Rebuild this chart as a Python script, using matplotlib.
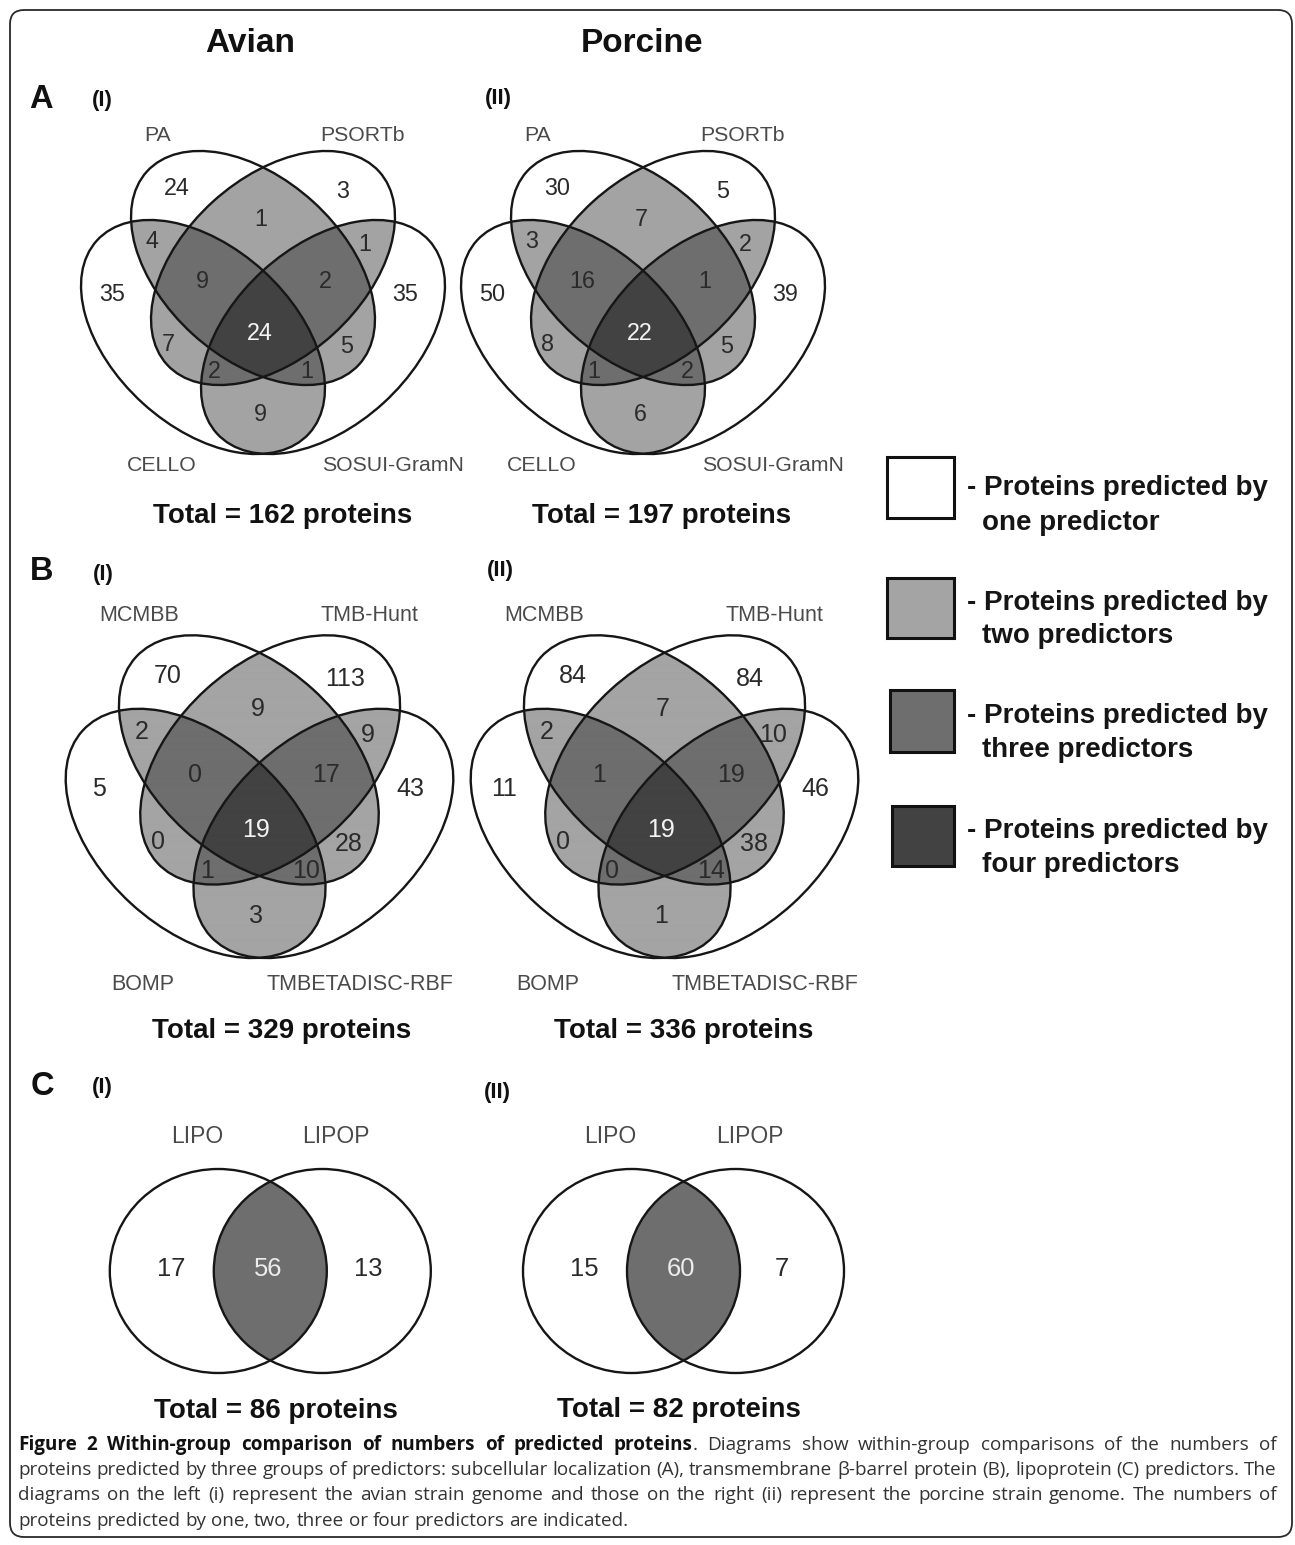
import numpy as np
import matplotlib
matplotlib.use("Agg")
import matplotlib.pyplot as plt
from matplotlib.patches import Ellipse, Rectangle, FancyBboxPatch
from matplotlib.colors import to_rgba

plt.rcParams['font.family'] = ['Liberation Sans', 'DejaVu Sans']

# ---------------- data ----------------
col_titles = ["Avian", "Porcine"]
panel_letters = ["A", "B", "C"]
panel_tags = ["(I)", "(II)"]

sets_A = ["PA", "PSORTb", "CELLO", "SOSUI-GramN"]
sets_B = ["MCMBB", "TMB-Hunt", "BOMP", "TMBETADISC-RBF"]
sets_C = ["LIPO", "LIPOP"]

# membership flags follow the order of the set lists above
region_keys = ["1000", "0100", "1100", "1010", "0101", "0010", "1110", "1101",
               "0001", "1111", "0110", "1001", "0111", "1011", "0011"]
counts_A_avian = [24, 3, 1, 4, 1, 35, 9, 2, 35, 24, 7, 5, 2, 1, 9]
counts_A_porcine = [30, 5, 7, 3, 2, 50, 16, 1, 39, 22, 8, 5, 1, 2, 6]
counts_B_avian = [70, 113, 9, 2, 9, 5, 0, 17, 43, 19, 0, 28, 1, 10, 3]
counts_B_porcine = [84, 84, 7, 2, 10, 11, 1, 19, 46, 19, 0, 38, 0, 14, 1]

c_region_keys = ["10", "11", "01"]
counts_C_avian = [17, 56, 13]
counts_C_porcine = [15, 60, 7]

legend_counts = ["one predictor", "two predictors", "three predictors", "four predictors"]

caption_lines = [
    [("Figure 2 Within-group comparison of numbers of predicted proteins", "bold"),
     (". Diagrams show within-group comparisons of the numbers of", "normal")],
    [("proteins predicted by three groups of predictors: subcellular localization (A), "
      "transmembrane \u03b2-barrel protein (B), lipoprotein (C) predictors. The", "normal")],
    [("diagrams on the left (i) represent the avian strain genome and those on the right (ii) "
      "represent the porcine strain genome. The numbers of", "normal")],
    [("proteins predicted by one, two, three or four predictors are indicated.", "normal")],
]

# ---------------- style / layout ----------------
W, H = 1295, 1545
PX = 100 / 72.0
fill_by_count = {1: "#ffffff", 2: "#a4a4a4", 3: "#6e6e6e", 4: "#424242"}
fill_C = {1: "#ffffff", 2: "#6e6e6e"}
LINE = "#161616"
NUM_COL = "#2a2a2a"
LAB_COL = "#4a4a4a"

QA, QB, THETA = 143.4, 89.5, 42.3
ell_rel = [(-10, -55), (10, -55), (-60, 14), (60, 14)]
ell_ang = [THETA, -THETA, THETA, -THETA]
num_off = {
    "1000": (-86, -136), "0100": (80, -133), "1100": (-2, -105),
    "1010": (-111, -83), "0101": (102, -80),
    "0010": (-151, -30), "0001": (142, -30),
    "1110": (-61, -43), "1101": (62, -43),
    "1111": (-3, 9),
    "0110": (-95, 20), "1001": (84, 22),
    "0111": (-49, 47), "1011": (44, 47),
    "0011": (-3, 90),
}
white_keys = {"1111"}

fig = plt.figure(figsize=(W / 100, H / 100), dpi=100)
ax = fig.add_axes([0, 0, 1, 1])
ax.set_xlim(0, W)
ax.set_ylim(H, 0)
ax.axis("off")


def put(x, yc, s, size, weight="normal", color="black", ha="center", cap=0.716, family=None, z=5):
    kw = {}
    if family:
        kw["family"] = family
    return ax.text(x, yc + cap * size * PX / 2, s, fontsize=size, fontweight=weight,
                   color=color, ha=ha, va="baseline", zorder=z, **kw)


def raster(ells, colors, x0, x1, y0, y1, step=0.5):
    xs = np.arange(x0, x1, step) + step / 2
    ys = np.arange(y0, y1, step) + step / 2
    X, Y = np.meshgrid(xs, ys)
    cnt = np.zeros(X.shape, int)
    for (cx, cy, a, b, ang) in ells:
        t = np.deg2rad(ang)
        dx, dy = X - cx, Y - cy
        u = dx * np.cos(t) + dy * np.sin(t)
        v = -dx * np.sin(t) + dy * np.cos(t)
        cnt += ((u / a) ** 2 + (v / b) ** 2 <= 1).astype(int)
    rgba = np.zeros(X.shape + (4,))
    for k, c in colors.items():
        rgba[cnt == k] = to_rgba(c)
    ax.imshow(rgba, extent=(x0, x1, y1, y0), origin="upper",
              interpolation="antialiased", aspect="auto", zorder=1)
    for (cx, cy, a, b, ang) in ells:
        ax.add_patch(Ellipse((cx, cy), 2 * a, 2 * b, angle=ang, fill=False,
                             lw=1.7, edgecolor=LINE, zorder=3))


def quad_venn(ox, oy, s, counts, names, label_off, num_size, lab_size, total_xy):
    ells = []
    for (rx, ry), ang in zip(ell_rel, ell_ang):
        ells.append((ox + s * rx, oy + s * ry, s * QA, s * QB, ang))
    raster(ells, fill_by_count, ox - 200 * s, ox + 200 * s, oy - 185 * s, oy + 140 * s)
    for key, val in zip(region_keys, counts):
        dx, dy = num_off[key]
        col = "#f4f4f4" if key in white_keys else NUM_COL
        put(ox + s * dx, oy + s * dy, str(val), num_size, color=col)
    for name, (lx, ly) in zip(names, label_off):
        put(ox + lx, oy + ly, name, lab_size, color=LAB_COL)
    put(total_xy[0], total_xy[1], f"Total = {sum(counts)} proteins", 20, weight="bold",
        color="#111111")


# border
ax.add_patch(FancyBboxPatch((10, 10), 1282, 1527, boxstyle="round,pad=0,rounding_size=14",
                            fill=False, lw=1.3, edgecolor="#2a2a2a", zorder=0))

# column titles
put(250, 40, col_titles[0], 24, weight="bold", color="#111111")
put(642, 40, col_titles[1], 24, weight="bold", color="#111111")

# panel letters and tags
letter_xy = [(41, 96), (42, 568), (42, 1083)]
tag1_xy = [(102, 96), (103, 570), (102, 1083)]
tag2_xy = [(498, 94), (500, 566), (497, 1088)]
for L, (lx, ly), (t1x, t1y), (t2x, t2y) in zip(panel_letters, letter_xy, tag1_xy, tag2_xy):
    put(lx, ly, L, 23.5, weight="bold", color="#111111")
    put(t1x, t1y, panel_tags[0], 16, weight="bold", color="#111111", cap=0.9)
    put(t2x, t2y, panel_tags[1], 16, weight="bold", color="#111111", cap=0.9)

# panel A
labA = [(-105, -190), (99, -190), (-101, 140), (130, 140)]
quad_venn(263, 323, 1.0, counts_A_avian, sets_A, labA, 16.8, 15.3, (283, 513))
quad_venn(643, 323, 1.0, counts_A_porcine, sets_A, labA, 16.8, 15.3, (662, 513))

# panel B
labB = [(-120, -205), (110, -205), (-117, 164), (100, 164)]
quad_venn(259.5, 818.5, 1.065, counts_B_avian, sets_B, labB, 18, 15.5, (282, 1028))
quad_venn(664.5, 818.5, 1.065, counts_B_porcine, sets_B, labB, 18, 15.5, (684, 1028))

# panel C
c_num_off = {"10": (-99, -4), "11": (-2, -4), "01": (98, -4)}
c_lab_off = [(-73, -136), (66, -136)]
for (ox, oy), counts, tot in zip([(270.3, 1271), (683.5, 1271)],
                                 [counts_C_avian, counts_C_porcine],
                                 [(276, 1408), (679, 1407)]):
    ells = [(ox - 52, oy, 108.5, 102, 0), (ox + 52, oy, 108.5, 102, 0)]
    raster(ells, fill_C, ox - 170, ox + 170, oy - 110, oy + 110)
    for key, val in zip(c_region_keys, counts):
        dx, dy = c_num_off[key]
        col = "#ececec" if key == "11" else NUM_COL
        put(ox + dx, oy + dy, str(val), 18.4, color=col)
    for name, (lx, ly) in zip(sets_C, c_lab_off):
        put(ox + lx, oy + ly, name, 16.5, color=LAB_COL)
    put(tot[0], tot[1], f"Total = {sum(counts)} proteins", 20, weight="bold", color="#111111")

# legend
box_rects = [(887, 457, 67, 61), (887, 578, 67, 60), (890, 690, 64, 62), (892, 806, 62, 60)]
leg_base = [(495, 530), (610, 643), (723, 757), (838, 872)]
for k, ((bx, by, bw, bh), (b1, b2), word) in enumerate(zip(box_rects, leg_base, legend_counts)):
    ax.add_patch(Rectangle((bx, by), bw, bh, facecolor=fill_by_count[k + 1],
                           edgecolor="#111111", lw=2.2, zorder=3))
    ax.text(967, b1, "- Proteins predicted by", fontsize=20, fontweight="bold",
            color="#151515", ha="left", va="baseline")
    ax.text(982, b2, word, fontsize=20, fontweight="bold", color="#151515",
            ha="left", va="baseline")

# caption (justified)
renderer = fig.canvas.get_renderer()
CAP_FAM = ["Open Sans", "DejaVu Sans"]
CAP_SIZE = 13.6
cap_base = [1450, 1475, 1500, 1526]
X0, X1 = 18, 1277


def measure(s, weight):
    t = ax.text(0, 0, s, fontsize=CAP_SIZE, fontweight=weight, family=CAP_FAM)
    w = t.get_window_extent(renderer).width
    t.remove()
    return w


space_w = measure("x x", "normal") - measure("xx", "normal")
for li, (segs, yb) in enumerate(zip(caption_lines, cap_base)):
    groups = []
    for text, weight in segs:
        parts = text.split(" ")
        for pi, p in enumerate(parts):
            if p == "":
                continue
            if pi == 0 and groups and not text.startswith(" "):
                groups[-1].append((p, weight))
            else:
                groups.append([(p, weight)])
    widths = [sum(measure(p, w) for p, w in g) for g in groups]
    justify = li < len(caption_lines) - 1
    gap = (X1 - X0 - sum(widths)) / (len(groups) - 1) if justify else space_w
    x = X0
    for g, gw in zip(groups, widths):
        xx = x
        for p, w in g:
            col = "#111111" if w == "bold" else "#333333"
            ax.text(xx, yb, p, fontsize=CAP_SIZE, fontweight=w, family=CAP_FAM,
                    color=col, ha="left", va="baseline")
            xx += measure(p, w)
        x += gw + gap

fig.savefig("out.png", dpi=100)
